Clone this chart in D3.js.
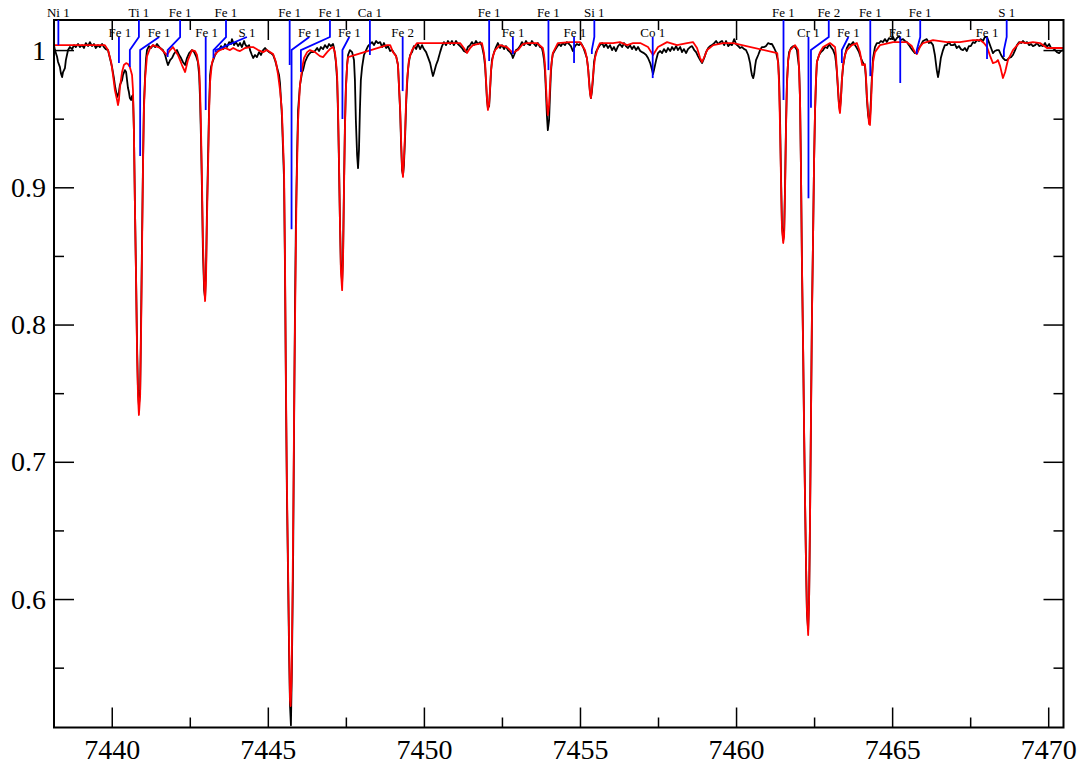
<!DOCTYPE html>
<html><head><meta charset="utf-8">
<script src="https://cdn.jsdelivr.net/npm/d3@7"></script>
<style>body{margin:0;background:#fff}svg{display:block}</style>
</head><body>
<svg id="chart" width="1082" height="764"></svg>
<script>
// ---------- DATA ----------
const xTicksMajor = [7440, 7445, 7450, 7455, 7460, 7465, 7470];
const xTicksMinor = [7442.5, 7447.5, 7452.5, 7457.5, 7462.5, 7467.5];
const yTicksMajor = [0.6, 0.7, 0.8, 0.9, 1.0];
const yTicksMinor = [0.55, 0.65, 0.75, 0.85, 0.95];
const yTickLabels = ["0.6", "0.7", "0.8", "0.9", "1"];

// observed spectrum [wavelength (A), normalised flux]
const observed = [
[7438.15,1.0036],[7438.18,1.000],[7438.25,0.9949],[7438.28,0.9913],[7438.34,0.9876],[7438.37,0.9832],[7438.41,0.9803],[7438.44,0.9840],[7438.50,0.9869],[7438.53,0.9927],[7438.60,1.000],
[7438.66,1.0022],[7438.73,1.0007],[7438.79,1.0036],[7438.85,1.0022],[7438.92,1.0044],[7438.98,1.0022],[7439.05,1.0036],[7439.11,1.0015],[7439.17,1.0051],[7439.24,1.0029],[7439.30,1.0058],[7439.37,1.0029],[7439.43,1.0044],[7439.49,1.0015],[7439.56,1.0036],[7439.62,1.0022],[7439.69,1.0044],[7439.75,1.0022],[7439.81,1.0007],[7439.88,1.000],[7439.94,0.9942],
[7440.01,0.9876],[7440.07,0.9796],[7440.10,0.9745],[7440.17,0.9658],[7440.20,0.9672],[7440.23,0.9694],[7440.26,0.9745],[7440.33,0.9781],[7440.36,0.9818],[7440.42,0.9854],[7440.46,0.9840],[7440.49,0.9781],[7440.52,0.9723],[7440.55,0.9694],[7440.58,0.9650],[7440.62,0.9636],[7440.65,0.9665],[7440.68,0.9672],[7440.71,0.9417],[7440.74,0.8907],[7440.78,0.8324],[7440.81,0.7850],[7440.84,0.7522],[7440.87,0.7413],[7440.91,0.7522],[7440.94,0.8032],[7440.97,0.8616],[7441.00,0.9162],[7441.03,0.9599],[7441.07,0.9818],[7441.10,0.9942],
[7441.13,1.000],[7441.19,1.0029],[7441.26,1.0015],[7441.32,1.0036],[7441.39,1.0022],[7441.45,1.0044],[7441.55,1.0015],[7441.64,1.000],[7441.71,0.9964],[7441.77,0.9913],[7441.80,0.9891],[7441.87,0.9927],[7441.93,0.9942],[7441.99,0.9971],
[7442.09,1.000],[7442.16,0.9964],[7442.22,0.9942],[7442.28,0.9913],[7442.35,0.9891],[7442.41,0.9942],[7442.48,0.9978],[7442.57,1.000],[7442.64,0.9985],[7442.70,0.9956],[7442.76,0.9913],[7442.80,0.9818],[7442.83,0.9636],[7442.86,0.9344],[7442.89,0.8980],[7442.92,0.8543],[7442.96,0.8251],[7442.99,0.8193],[7443.02,0.8397],[7443.05,0.8834],[7443.09,0.9271],[7443.12,0.9599],[7443.15,0.9818],[7443.18,0.9876],[7443.25,0.9927],[7443.31,0.9964],[7443.37,0.9985],
[7443.44,1.000],[7443.50,1.0029],[7443.57,1.0007],[7443.63,1.0044],[7443.69,1.0022],[7443.76,1.0058],[7443.82,1.0044],[7443.85,1.0080],[7443.92,1.0036],[7443.98,1.0058],[7444.05,1.0029],[7444.11,1.0051],[7444.17,1.0022],[7444.24,1.0066],[7444.27,1.0044],[7444.33,1.0022],[7444.40,1.0036],[7444.43,1.000],
[7444.49,0.9964],[7444.53,0.9942],[7444.59,0.9964],[7444.65,0.9949],[7444.72,0.9985],[7444.78,0.9964],[7444.85,1.000],[7444.91,1.0015],[7444.97,1.000],[7445.04,0.9985],[7445.10,0.9978],[7445.17,0.9964],[7445.23,0.9927],[7445.29,0.9876],[7445.36,0.9818],[7445.39,0.9760],[7445.45,0.9526],[7445.52,0.9053],[7445.55,0.8397],[7445.58,0.7522],[7445.61,0.6793],[7445.65,0.6137],[7445.68,0.5628],[7445.71,0.5228],[7445.74,0.5080],[7445.77,0.5482],[7445.81,0.6282],[7445.84,0.7231],[7445.87,0.8106],[7445.90,0.8761],[7445.94,0.9271],[7445.97,0.9563],
[7446.03,0.9745],[7446.10,0.9840],[7446.13,0.9854],[7446.19,0.9913],[7446.26,0.9949],[7446.32,0.9971],[7446.38,0.9985],[7446.45,0.9985],
[7446.51,0.9993],[7446.58,1.0015],[7446.64,0.9993],[7446.70,1.0022],[7446.77,1.0007],[7446.83,1.0036],[7446.90,1.0015],[7446.96,1.0044],[7447.02,1.0029],[7447.09,1.0044],
[7447.12,1.0015],[7447.15,0.9964],[7447.18,0.9913],[7447.22,0.9781],[7447.25,0.9526],[7447.28,0.9162],[7447.31,0.8761],[7447.34,0.8433],[7447.38,0.8309],[7447.41,0.8506],[7447.44,0.9016],[7447.47,0.9454],[7447.50,0.9723],[7447.54,0.9891],[7447.57,0.9964],[7447.63,1.000],[7447.70,0.9985],[7447.76,0.9927],[7447.79,0.9781],[7447.82,0.9490],[7447.86,0.9235],[7447.89,0.9140],[7447.92,0.9271],[7447.95,0.9563],[7447.98,0.9781],
[7448.02,0.9876],[7448.08,0.9964],
[7448.15,1.000],[7448.21,1.0029],[7448.27,1.0044],[7448.34,1.0058],[7448.40,1.0036],[7448.47,1.0066],[7448.53,1.0051],[7448.60,1.0058],[7448.66,1.0022],[7448.72,1.0051],[7448.79,1.0015],[7448.85,1.0029],[7448.92,0.9993],[7448.98,1.000],
[7449.04,0.9978],[7449.11,0.9956],[7449.17,0.9891],[7449.20,0.9745],[7449.24,0.9548],[7449.27,0.9308],[7449.30,0.9126],[7449.33,0.9089],[7449.36,0.9162],[7449.40,0.9381],[7449.43,0.9599],[7449.46,0.9745],[7449.49,0.9854],[7449.52,0.9913],[7449.56,0.9964],
[7449.62,0.9985],[7449.68,1.0029],[7449.75,1.0007],[7449.81,1.0044],[7449.88,1.0007],[7449.94,1.0036],[7450.00,1.0007],
[7450.07,0.9985],[7450.13,0.9949],[7450.20,0.9905],[7450.26,0.9840],[7450.29,0.9811],[7450.32,0.9832],[7450.39,0.9891],[7450.45,0.9927],[7450.52,0.9985],
[7450.58,1.0029],[7450.64,1.0058],[7450.71,1.0036],[7450.77,1.0066],[7450.84,1.0044],[7450.90,1.0066],[7450.96,1.0036],[7451.03,1.0066],[7451.09,1.0044],[7451.16,1.0029],[7451.22,1.0015],[7451.28,0.9993],[7451.35,0.9985],[7451.41,1.0022],[7451.48,1.0036],[7451.54,1.0058],[7451.60,1.0036],[7451.67,1.0066],[7451.73,1.0044],[7451.80,1.0058],[7451.86,1.0029],
[7451.92,0.9964],[7451.96,0.9883],[7451.99,0.9767],[7452.02,0.9636],[7452.05,0.9577],[7452.09,0.9592],[7452.12,0.9709],[7452.15,0.9840],[7452.18,0.9927],[7452.25,0.9985],
[7452.31,1.0022],[7452.37,1.0051],[7452.44,1.0015],[7452.50,1.0036],[7452.57,1.0007],[7452.63,1.0029],[7452.69,1.000],[7452.76,0.9985],
[7452.82,0.9964],[7452.85,0.9942],[7452.89,0.9964],[7452.95,1.000],[7453.01,1.0007],
[7453.08,1.0029],[7453.14,1.0058],[7453.21,1.0036],[7453.27,1.0066],[7453.33,1.0044],[7453.40,1.0036],[7453.46,1.0066],[7453.53,1.0044],[7453.59,1.0029],[7453.65,1.0051],[7453.72,1.0022],[7453.78,1.0015],
[7453.81,0.9985],[7453.85,0.9927],[7453.88,0.9840],[7453.91,0.9694],[7453.94,0.9526],[7453.97,0.9417],[7454.01,0.9490],[7454.04,0.9672],[7454.07,0.9840],[7454.10,0.9927],[7454.13,0.9971],[7454.20,1.000],
[7454.26,1.0022],[7454.33,1.0044],[7454.39,1.0029],[7454.45,1.0051],[7454.52,1.0036],[7454.58,1.0058],[7454.65,1.0044],[7454.71,1.0029],[7454.77,0.9993],[7454.84,1.0029],[7454.90,1.0044],[7454.97,1.0036],[7455.03,1.0051],[7455.10,1.0022],
[7455.16,0.9985],[7455.22,0.9942],[7455.26,0.9869],[7455.29,0.9781],[7455.32,0.9694],[7455.35,0.9650],[7455.38,0.9694],[7455.42,0.9796],[7455.45,0.9913],[7455.51,0.9985],[7455.58,1.0015],
[7455.64,1.0036],[7455.71,1.0051],[7455.77,1.0022],[7455.83,1.0044],[7455.90,1.0015],[7455.96,1.0036],[7456.03,1.000],[7456.09,1.0022],[7456.15,0.9993],[7456.22,1.0029],[7456.28,1.0044],[7456.35,1.0022],[7456.41,1.0051],[7456.47,1.0029],[7456.54,1.0015],[7456.60,1.0036],[7456.67,1.0007],[7456.73,1.0029],[7456.80,1.000],[7456.86,1.0022],[7456.93,0.9993],
[7456.99,0.9985],[7457.05,0.9978],[7457.12,0.9964],[7457.18,0.9942],[7457.25,0.9905],[7457.31,0.9854],[7457.34,0.9825],[7457.37,0.9854],[7457.44,0.9927],[7457.50,0.9978],
[7457.57,0.9993],[7457.63,0.9978],[7457.69,1.0007],[7457.76,0.9985],[7457.82,1.0015],[7457.89,0.9993],[7457.95,1.0022],[7458.01,1.000],[7458.08,1.0029],[7458.14,1.000],[7458.21,1.0022],[7458.27,0.9985],[7458.33,1.0007],[7458.40,0.9978],[7458.46,1.0007],[7458.53,1.0022],[7458.59,1.0029],[7458.66,1.000],
[7458.72,0.9985],[7458.78,0.9956],[7458.85,0.9927],[7458.91,0.9905],[7458.98,0.9942],[7459.04,0.9985],
[7459.11,1.0015],[7459.17,1.0029],[7459.23,1.0036],[7459.30,1.0051],[7459.36,1.0066],[7459.43,1.0044],[7459.49,1.0058],[7459.55,1.0066],[7459.62,1.0036],[7459.68,1.0066],[7459.75,1.0029],[7459.81,1.0044],[7459.87,1.0036],[7459.94,1.0080],[7460.00,1.0044],[7460.07,1.0029],[7460.13,1.0015],[7460.19,1.0022],[7460.26,1.0007],
[7460.32,1.000],[7460.39,0.9964],[7460.45,0.9905],[7460.48,0.9854],[7460.51,0.9818],[7460.55,0.9796],[7460.58,0.9825],[7460.61,0.9883],[7460.64,0.9927],[7460.71,0.9964],[7460.77,1.000],[7460.83,1.0022],[7460.90,1.0022],[7460.96,1.0029],[7461.03,1.0051],[7461.09,1.0044],[7461.15,1.0044],[7461.22,1.0015],
[7461.28,0.9985],[7461.35,0.9913],[7461.38,0.9781],[7461.41,0.9490],[7461.44,0.9089],[7461.47,0.8725],[7461.51,0.8616],[7461.54,0.8674],[7461.57,0.9016],[7461.60,0.9454],[7461.63,0.9767],[7461.67,0.9927],[7461.70,0.9985],[7461.76,1.0015],[7461.83,1.0029],[7461.89,1.0022],[7461.95,1.000],
[7462.02,0.9869],[7462.05,0.9636],[7462.08,0.9126],[7462.11,0.8455],[7462.15,0.7799],[7462.18,0.7216],[7462.21,0.6720],[7462.24,0.6268],[7462.27,0.5904],[7462.31,0.5773],[7462.34,0.6006],[7462.37,0.6590],[7462.40,0.7319],[7462.43,0.8047],[7462.47,0.8688],[7462.50,0.9198],[7462.53,0.9548],[7462.56,0.9767],[7462.59,0.9913],[7462.66,0.9964],[7462.72,0.9985],[7462.79,1.000],[7462.85,1.0022],[7462.92,1.0015],[7462.98,1.0044],[7463.04,1.0022],[7463.11,1.000],[7463.17,0.9964],[7463.20,0.9913],[7463.23,0.9840],[7463.27,0.9694],[7463.30,0.9599],[7463.33,0.9577],[7463.36,0.9650],[7463.39,0.9781],[7463.43,0.9883],[7463.49,0.9964],[7463.55,1.0015],[7463.62,1.0044],[7463.68,1.0036],[7463.75,1.0058],[7463.81,1.0036],[7463.87,1.0015],[7463.94,0.9985],
[7464.00,0.9942],[7464.07,0.9905],[7464.13,0.9883],[7464.16,0.9796],[7464.19,0.9650],[7464.23,0.9526],[7464.26,0.9490],[7464.29,0.9504],[7464.32,0.9636],[7464.35,0.9796],[7464.39,0.9942],
[7464.45,1.0022],[7464.51,1.0051],[7464.58,1.0051],[7464.64,1.0066],[7464.71,1.0058],[7464.77,1.0080],[7464.83,1.0058],[7464.90,1.0087],[7464.96,1.0080],[7465.03,1.0095],[7465.09,1.0066],[7465.15,1.0087],[7465.22,1.0102],[7465.28,1.0073],[7465.35,1.0080],[7465.41,1.0066],[7465.47,1.0058],
[7465.54,1.0036],[7465.60,1.0015],[7465.67,0.9993],[7465.73,0.9978],[7465.79,0.9978],[7465.86,1.0015],[7465.92,1.0036],[7465.99,1.0066],
[7466.05,1.0073],[7466.11,1.0080],[7466.18,1.0051],[7466.24,1.0058],[7466.31,1.0036],[7466.37,0.9964],[7466.43,0.9854],[7466.47,0.9803],[7466.50,0.9840],[7466.56,0.9942],
[7466.63,1.000],[7466.69,1.0036],[7466.75,1.0036],[7466.82,1.0058],[7466.88,1.0036],[7466.95,1.0036],[7467.01,1.0044],[7467.07,1.0015],[7467.14,1.0029],[7467.20,1.0007],[7467.27,1.000],[7467.33,1.0015],[7467.39,0.9993],[7467.46,1.0029],[7467.52,1.0029],[7467.59,1.0058],[7467.65,1.0051],[7467.72,1.0073],[7467.78,1.0066],[7467.84,1.0080],[7467.91,1.0066],[7467.97,1.0095],
[7468.04,1.0095],[7468.10,1.0058],[7468.17,1.0015],[7468.23,0.9978],[7468.29,0.9993],[7468.36,1.000],[7468.42,1.000],[7468.49,0.9964],[7468.55,0.9942],[7468.62,0.9927],[7468.68,0.9927],[7468.74,0.9942],[7468.81,0.9949],[7468.87,0.9964],[7468.94,1.000],
[7469.00,1.0036],[7469.07,1.0058],[7469.13,1.0051],[7469.19,1.0066],[7469.26,1.0051],[7469.32,1.0058],[7469.39,1.0036],[7469.45,1.0044],[7469.51,1.0029],[7469.58,1.0036],[7469.64,1.0051],[7469.71,1.0029],[7469.77,1.0036],[7469.83,1.0029],[7469.90,1.0051],[7469.96,1.0022],[7470.03,1.0044],[7470.09,1.0015],
[7470.15,1.0015],[7470.22,1.000],[7470.28,0.9985],[7470.35,0.9978],[7470.41,0.9993],[7470.48,1.000]
];

// synthetic (model) spectrum [wavelength (A), normalised flux]
const model = [
[7438.15,1.0036],[7438.98,1.0036],[7439.78,1.0036],[7439.88,1.000],[7439.98,0.9913],[7440.04,0.9818],[7440.10,0.9709],[7440.17,0.9636],[7440.20,0.9599],[7440.23,0.9636],[7440.26,0.9723],[7440.33,0.9840],[7440.39,0.9891],[7440.46,0.9905],[7440.52,0.9898],[7440.58,0.9876],[7440.65,0.9818],[7440.68,0.9709],[7440.71,0.9417],[7440.74,0.8907],[7440.78,0.8324],[7440.81,0.7813],[7440.84,0.7486],[7440.87,0.7341],[7440.91,0.7486],[7440.94,0.7959],[7440.97,0.8543],[7441.00,0.9126],[7441.03,0.9563],[7441.07,0.9796],[7441.13,0.9956],[7441.23,1.0015],[7441.32,1.0036],[7441.55,1.0015],[7441.71,0.9978],[7441.77,0.9964],[7441.87,1.000],[7441.96,1.0022],
[7442.12,0.9964],[7442.25,0.9891],[7442.35,0.9840],[7442.44,0.9927],[7442.57,1.000],[7442.67,0.9993],[7442.73,0.9964],[7442.80,0.9869],[7442.83,0.9709],[7442.86,0.9417],[7442.89,0.9053],[7442.92,0.8616],[7442.96,0.8288],[7442.99,0.8171],[7443.02,0.8324],[7443.05,0.8761],[7443.09,0.9198],[7443.12,0.9563],[7443.15,0.9767],[7443.21,0.9905],[7443.28,0.9956],[7443.37,0.9985],[7443.47,1.000],[7443.63,1.0015],[7443.79,1.000],[7443.89,1.0015],[7444.01,1.000],[7444.11,0.9993],[7444.27,1.0015],[7444.43,1.0022],[7444.53,1.0022],[7444.69,1.000],[7444.85,0.9985],[7444.97,1.000],
[7445.07,0.9985],[7445.17,0.9971],[7445.26,0.9913],[7445.33,0.9818],[7445.39,0.9709],[7445.45,0.9563],[7445.52,0.9126],[7445.55,0.8470],[7445.58,0.7595],[7445.61,0.6866],[7445.65,0.6209],[7445.68,0.5702],[7445.71,0.5263],[7445.73,0.5220],[7445.76,0.5409],[7445.79,0.5993],[7445.82,0.6720],[7445.85,0.7595],[7445.89,0.8397],[7445.92,0.8980],[7445.97,0.9490],[7446.03,0.9745],[7446.10,0.9869],[7446.16,0.9942],[7446.26,0.9985],[7446.35,1.000],[7446.51,0.9985],[7446.67,0.9956],[7446.77,0.9949],[7446.90,0.9985],[7446.99,1.0007],
[7447.09,1.0022],[7447.15,0.9985],[7447.18,0.9927],[7447.22,0.9818],[7447.25,0.9563],[7447.28,0.9198],[7447.31,0.8761],[7447.34,0.8397],[7447.38,0.8251],[7447.41,0.8470],[7447.44,0.8980],[7447.47,0.9417],[7447.50,0.9709],[7447.54,0.9891],[7447.57,0.9949],[7448.82,1.0036],[7448.92,1.0036],[7449.01,0.9985],[7449.11,0.9956],[7449.17,0.9891],[7449.20,0.9745],[7449.24,0.9563],[7449.27,0.9344],[7449.30,0.9140],[7449.33,0.9075],[7449.36,0.9198],[7449.40,0.9417],[7449.43,0.9636],[7449.46,0.9781],[7449.52,0.9927],[7449.62,1.000],[7449.78,1.0051],
[7450.52,1.0051],[7451.16,1.0051],[7451.28,1.0015],[7451.38,0.9978],[7451.48,1.0015],[7451.57,1.0036],[7451.86,1.0051],[7451.92,0.9985],[7451.96,0.9913],[7451.99,0.9781],[7452.02,0.9650],[7452.05,0.9563],[7452.09,0.9606],[7452.12,0.9723],[7452.15,0.9854],[7452.21,0.9956],[7452.28,1.000],[7452.44,1.0036],[7452.66,1.0022],[7452.76,1.000],[7452.85,0.9978],[7453.01,1.000],[7453.17,1.0044],[7453.30,1.0051],[7453.62,1.0051],[7453.81,1.0015],[7453.85,0.9964],[7453.88,0.9891],[7453.91,0.9745],[7453.94,0.9614],[7453.97,0.9526],
[7454.01,0.9599],[7454.04,0.9745],[7454.07,0.9869],[7454.13,0.9978],[7454.29,1.0051],[7454.68,1.0058],[7455.00,1.0058],[7455.16,1.000],[7455.22,0.9942],[7455.26,0.9869],[7455.29,0.9767],[7455.32,0.9687],[7455.35,0.9650],[7455.38,0.9709],[7455.42,0.9818],[7455.48,0.9942],[7455.58,1.0022],[7455.64,1.0051],[7456.06,1.0051],[7456.28,1.0058],[7456.51,1.0036],[7456.70,1.0051],[7456.93,1.0051],[7457.18,1.0022],[7457.28,0.9985],[7457.34,0.9964],[7457.44,1.000],[7457.50,1.0022],[7457.79,1.0058],
[7458.11,1.0036],[7458.43,1.0051],[7458.62,1.0058],[7458.75,1.0015],[7458.85,0.9942],[7458.91,0.9913],[7459.01,0.9964],[7459.07,1.000],[7459.27,1.0036],[7459.59,1.0051],[7459.91,1.0051],[7461.32,0.9978],[7461.35,0.9891],[7461.38,0.9745],[7461.41,0.9417],[7461.44,0.9053],[7461.47,0.8703],[7461.51,0.8594],[7461.54,0.8645],[7461.57,0.8980],[7461.60,0.9417],[7461.63,0.9745],[7461.67,0.9927],[7461.73,1.000],[7461.89,1.0036],[7461.99,1.000],
[7462.02,0.9854],[7462.05,0.9636],[7462.08,0.9126],[7462.11,0.8470],[7462.15,0.7813],[7462.18,0.7231],[7462.21,0.6720],[7462.24,0.6282],[7462.27,0.5920],[7462.31,0.5738],[7462.34,0.5993],[7462.37,0.6574],[7462.40,0.7304],[7462.43,0.8032],[7462.47,0.8688],[7462.50,0.9198],[7462.53,0.9563],[7462.56,0.9781],[7462.59,0.9913],[7462.69,0.9985],[7462.79,1.0022],[7463.01,1.0051],[7463.17,1.0022],[7463.20,0.9964],[7463.23,0.9854],[7463.27,0.9709],[7463.30,0.9577],[7463.33,0.9541],[7463.36,0.9636],[7463.39,0.9781],[7463.43,0.9891],[7463.49,0.9964],[7463.55,1.000],[7463.71,1.0036],[7463.87,1.0051],[7463.97,0.9985],
[7464.04,0.9891],[7464.13,0.9898],[7464.16,0.9818],[7464.19,0.9672],[7464.23,0.9548],[7464.26,0.9461],[7464.29,0.9454],[7464.32,0.9577],[7464.35,0.9767],[7464.39,0.9913],[7464.45,0.9985],[7464.61,1.0036],[7465.03,1.0058],[7465.47,1.0058],[7465.63,1.0029],[7465.73,0.9985],[7465.79,0.9971],[7465.89,1.0022],[7465.99,1.0051],[7466.31,1.0073],[7466.75,1.0058],[7467.17,1.0058],[7467.59,1.0073],[7467.82,1.0073],[7467.94,1.0051],
[7468.04,1.0022],[7468.14,0.9956],[7468.23,0.9905],[7468.33,0.9913],[7468.39,0.9927],[7468.46,0.9883],[7468.55,0.9796],[7468.62,0.9840],[7468.71,0.9927],[7468.87,1.000],[7469.10,1.0058],[7469.32,1.0051],[7469.51,1.0058],[7469.74,1.0051],[7469.96,1.0015],[7470.15,1.0015],[7470.48,1.0015]
];

// line identifications
const lineSpecies   = ["Ni 1","Fe 1","Ti 1","Fe 1","Fe 1","Fe 1","Fe 1","S 1","Fe 1","Fe 1","Fe 1","Ca 1","Fe 1","Fe 2","Fe 1","Fe 1","Fe 1","Fe 1","Si 1","Co 1","Fe 1","Cr 1","Fe 2","Fe 1","Fe 1","Fe 1","Fe 1","Fe 1","S 1"];
const lineWave      = [7438.29,7440.23,7440.58,7440.91,7441.79,7443.01,7443.26,7443.33,7445.70,7445.76,7446.06,7448.27,7447.39,7449.32,7452.09,7452.85,7453.99,7454.81,7455.38,7457.33,7461.52,7462.32,7462.40,7463.39,7464.30,7465.26,7465.79,7468.04,7468.58];
const labelWave     = [7438.29,7440.26,7440.87,7441.52,7442.19,7443.04,7443.66,7444.33,7445.70,7446.33,7446.99,7448.27,7447.61,7449.32,7452.09,7452.86,7453.99,7454.84,7455.46,7457.33,7461.52,7462.32,7462.97,7463.60,7464.30,7465.26,7465.90,7468.04,7468.67];
const labelRow      = [0,1,0,1,0,1,0,1,0,1,0,0,1,1,0,1,0,1,0,1,0,1,0,1,0,1,0,1,0];
const lineDepth     = [1.0036,0.9905,0.9876,0.9228,0.9949,0.9563,0.9942,0.9985,0.9891,0.8695,0.9840,0.9964,0.9497,0.9701,0.9920,0.9970,0.9854,0.9905,0.9971,0.9796,0.9636,0.8920,0.9580,0.9905,0.9810,0.9760,0.9971,0.9934,0.9949];

// ---------- CHART ----------
const W = 1082, H = 764;
const m = {left: 54, top: 20, right: 1063.5, bottom: 727.5};
const svg = d3.select("#chart");
const x = d3.scaleLinear().domain([7438.15, 7470.49]).range([m.left, m.right]);
const y = d3.scaleLinear().domain([0.5064, 1.0219]).range([m.bottom, m.top]);
const serif = "Liberation Serif, Times New Roman, Times, serif";

svg.append("rect").attr("width", W).attr("height", H).attr("fill", "#fff");

svg.append("defs").append("clipPath").attr("id", "plotclip")
  .append("rect").attr("x", m.left).attr("y", m.top)
  .attr("width", m.right - m.left).attr("height", m.bottom - m.top);

function styleAxis(g) {
  g.attr("font-family", serif).attr("font-size", 28);
  g.select(".domain").remove();
  g.selectAll(".tick line").attr("stroke", "#000").attr("stroke-width", 1.5);
  g.selectAll(".tick text").attr("fill", "#000").attr("font-family", serif).attr("font-size", 28);
}

// bottom axis
svg.append("g").attr("transform", `translate(0,${m.bottom})`)
  .call(d3.axisBottom(x).tickValues(xTicksMajor).tickSize(-20).tickPadding(11.5).tickFormat(d3.format("d")))
  .call(styleAxis);
svg.append("g").attr("transform", `translate(0,${m.bottom})`)
  .call(d3.axisBottom(x).tickValues(xTicksMinor).tickSize(-10).tickFormat(""))
  .call(styleAxis);
// top axis
svg.append("g").attr("transform", `translate(0,${m.top})`)
  .call(d3.axisTop(x).tickValues(xTicksMajor).tickSize(-20).tickFormat(""))
  .call(styleAxis);
svg.append("g").attr("transform", `translate(0,${m.top})`)
  .call(d3.axisTop(x).tickValues(xTicksMinor).tickSize(-10).tickFormat(""))
  .call(styleAxis);
// left axis
svg.append("g").attr("transform", `translate(${m.left},0)`)
  .call(d3.axisLeft(y).tickValues(yTicksMajor).tickSize(-20).tickPadding(8)
    .tickFormat((d, i) => yTickLabels[i]))
  .call(styleAxis);
svg.append("g").attr("transform", `translate(${m.left},0)`)
  .call(d3.axisLeft(y).tickValues(yTicksMinor).tickSize(-10).tickFormat(""))
  .call(styleAxis);
// right axis
svg.append("g").attr("transform", `translate(${m.right},0)`)
  .call(d3.axisRight(y).tickValues(yTicksMajor).tickSize(-20).tickFormat(""))
  .call(styleAxis);
svg.append("g").attr("transform", `translate(${m.right},0)`)
  .call(d3.axisRight(y).tickValues(yTicksMinor).tickSize(-10).tickFormat(""))
  .call(styleAxis);

// spectra
const line = d3.line().x(d => x(d[0])).y(d => y(d[1]));
const plot = svg.append("g").attr("clip-path", "url(#plotclip)");
plot.append("path").datum(observed).attr("d", line)
  .attr("fill", "none").attr("stroke", "#000").attr("stroke-width", 1.8).attr("stroke-linejoin", "round");
plot.append("path").datum(model).attr("d", line)
  .attr("fill", "none").attr("stroke", "#ff0000").attr("stroke-width", 1.8).attr("stroke-linejoin", "round");

// frame
svg.append("rect").attr("x", m.left).attr("y", m.top)
  .attr("width", m.right - m.left).attr("height", m.bottom - m.top)
  .attr("fill", "none").attr("stroke", "#000").attr("stroke-width", 2);

// line identification markers
const kinkFlux = 1.0095, joinFlux = 1.0;
const ids = lineSpecies.map((s, i) => ({s, w: lineWave[i], lw: labelWave[i], row: labelRow[i], depth: lineDepth[i]}));
const idG = svg.append("g");
ids.forEach(d => {
  const lx = x(d.lw), wx = x(d.w);
  const startY = d.row === 0 ? m.top : y(kinkFlux);
  let pts;
  if (Math.abs(lx - wx) < 1.5) {
    pts = [[wx, startY], [wx, y(d.depth)]];
  } else {
    pts = [[lx, startY]];
    if (d.row === 0) pts.push([lx, y(kinkFlux)]);
    pts.push([wx, y(joinFlux)]);
    pts.push([wx, Math.max(y(d.depth), y(joinFlux))]);
  }
  idG.append("path").attr("d", d3.line()(pts))
    .attr("fill", "none").attr("stroke", "#0000ff").attr("stroke-width", 1.8);
  idG.append("text").attr("x", lx).attr("y", d.row === 0 ? 16.5 : 36.5)
    .attr("text-anchor", "middle").attr("font-family", serif).attr("font-size", 13)
    .attr("fill", "#000").text(d.s);
});
</script>
</body></html>
